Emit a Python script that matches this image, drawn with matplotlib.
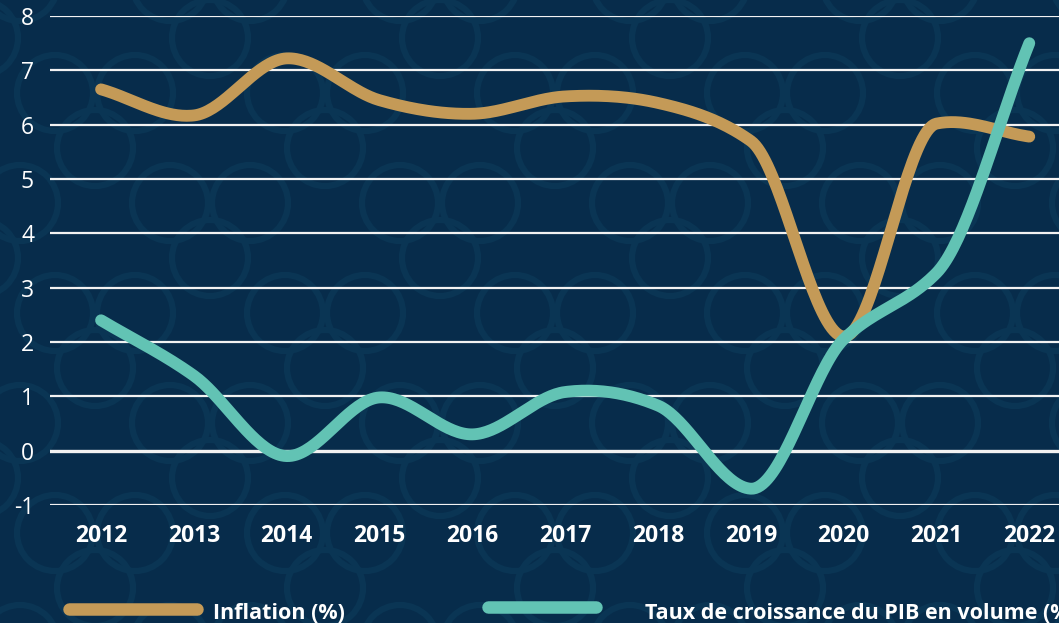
import numpy as np
import matplotlib
matplotlib.use("Agg")
import matplotlib.pyplot as plt
from matplotlib.lines import Line2D
from matplotlib.patches import Circle

plt.rcParams['font.family'] = ['Open Sans', 'DejaVu Sans']

years = [2012, 2013, 2014, 2015, 2016, 2017, 2018, 2019, 2020, 2021, 2022]
inflation = [6.65, 6.17, 7.22, 6.45, 6.2, 6.52, 6.4, 5.7, 2.1, 6.02, 5.78]
pib = [2.4, 1.38, -0.1, 0.98, 0.3, 1.08, 0.83, -0.7, 2.05, 3.27, 7.5]
yticks = [-1, 0, 1, 2, 3, 4, 5, 6, 7, 8]

bg = '#072c4b'
ring = '#0a3554'
gold = '#c49a57'
teal = '#62c3b4'

# px per year / px per unit, used to weight the tangents by chord length
XPX, YPX = 92.8, 54.3


def smooth(x, y, n=40):
    # cubic hermite, tangents weighted toward the shorter neighbouring chord
    x = np.asarray(x, float)
    y = np.asarray(y, float)
    s = np.diff(y) / np.diff(x)
    L = np.hypot(np.diff(x) * XPX, np.diff(y) * YPX)
    m = np.empty(len(x))
    m[0], m[-1] = s[0], s[-1]
    for i in range(1, len(x) - 1):
        w0, w1 = 1 / L[i - 1] ** 2, 1 / L[i] ** 2
        m[i] = (w0 * s[i - 1] + w1 * s[i]) / (w0 + w1)
    xs, ys = [], []
    t = np.linspace(0, 1, n)
    h00 = 2 * t**3 - 3 * t**2 + 1
    h10 = t**3 - 2 * t**2 + t
    h01 = -2 * t**3 + 3 * t**2
    h11 = t**3 - t**2
    for i in range(len(x) - 1):
        h = x[i + 1] - x[i]
        xs.append(x[i] + t * h)
        ys.append(h00 * y[i] + h10 * h * m[i] + h01 * y[i + 1] + h11 * h * m[i + 1])
    return np.concatenate(xs), np.concatenate(ys)


W, H = 1059, 623
fig = plt.figure(figsize=(W / 100, H / 100), dpi=100, facecolor=bg)

# faint background pattern of rings
bgax = fig.add_axes([0, 0, 1, 1])
bgax.set_xlim(0, W)
bgax.set_ylim(0, H)
bgax.axis('off')
for r, yc in enumerate(range(-20, H + 80, 110)):
    off = 0 if r % 2 == 0 else 115
    for xc in range(-60 + off, W + 120, 230):
        for dx, dy in [(0, 0), (80, 0), (40, -55)]:
            bgax.add_patch(Circle((xc + dx, yc + dy), 38, fill=False, ec=ring, lw=4.5))

ax = fig.add_axes([50 / W, (H - 505) / H, 1 - 50 / W, 489 / H])
ax.set_facecolor('none')
ax.set_ylim(-1, 8)
ax.set_xlim(2011.45, 2022.32)
for v in yticks:
    ax.axhline(v, color='#f2f2f2', lw=2.4 if v == 0 else 1.6, zorder=1)

sx, sy = smooth(years, inflation)
ax.plot(sx, sy, color=gold, lw=8.5, solid_capstyle='round', zorder=3, clip_on=False)
sx, sy = smooth(years, pib)
ax.plot(sx, sy, color=teal, lw=8.5, solid_capstyle='round', zorder=4, clip_on=False)

ax.set_yticks(yticks)
ax.set_yticklabels([str(v) for v in yticks], fontsize=16.5, color='white')
ax.set_xticks(years)
ax.set_xticklabels([str(y) for y in years], fontsize=16.5, color='white', fontweight='bold')
ax.tick_params(axis='y', length=0, pad=11.5)
ax.tick_params(axis='x', length=0, pad=14)
for s in ax.spines.values():
    s.set_visible(False)

# legend
fig.add_artist(Line2D([69 / W, 197 / W], [1 - 609 / H] * 2, color=gold, lw=9,
                      solid_capstyle='round'))
fig.text(213 / W, 1 - 619 / H, 'Inflation (%)', color='white', fontsize=15.5,
         fontweight='bold', va='baseline')
fig.add_artist(Line2D([488 / W, 596 / W], [1 - 607 / H] * 2, color=teal, lw=9,
                      solid_capstyle='round'))
fig.text(645 / W, 1 - 619 / H, 'Taux de croissance du PIB en volume (%)', color='white',
         fontsize=15.5, fontweight='bold', va='baseline')

fig.savefig('out.png', dpi=100, facecolor=bg)
